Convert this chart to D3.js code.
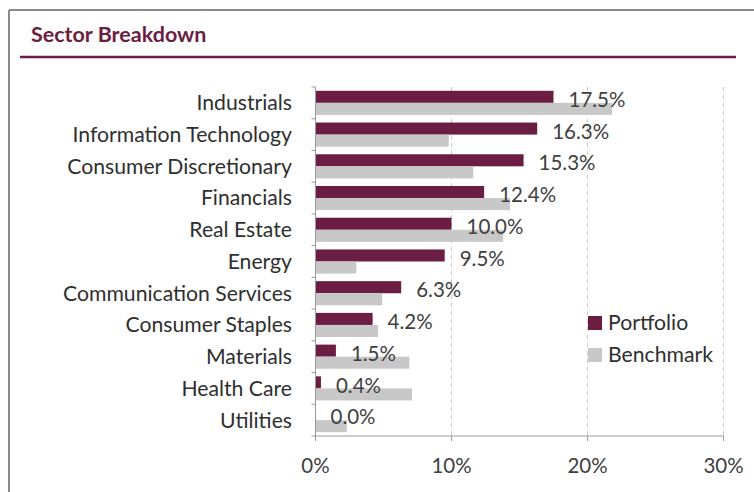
<!DOCTYPE html>
<meta charset="utf-8">
<style>
    body { margin: 0; background: #fff; }
    text { font-family: Lato, "Open Sans", sans-serif; }
    .cat { font-size: 21.2px; fill: #2f2f2f; }
    .val { font-size: 20.5px; fill: #404040; }
    .tick-label { font-size: 20.5px; fill: #404040; }
    .grid line { stroke: #c8c8c8; stroke-dasharray: 4, 4; }
</style>
<body>
<svg width="754" height="492"></svg>
</body>
<script src="https://d3js.org/d3.v7.min.js"></script>
<script>
    // data
    var sectors = ["Industrials", "Information Technology", "Consumer Discretionary", "Financials",
        "Real Estate", "Energy", "Communication Services", "Consumer Staples", "Materials",
        "Health Care", "Utilities"];
    var portfolio = [17.5, 16.3, 15.3, 12.4, 10.0, 9.5, 6.3, 4.2, 1.5, 0.4, 0.0];
    var benchmark = [21.8, 9.8, 11.6, 14.3, 13.8, 3.0, 4.9, 4.6, 6.9, 7.1, 2.3];
    var xTicks = [0, 10, 20, 30];

    var maroon = "#6b1d42", grey = "#c8c8c8";

    var svg = d3.select("svg");

    // frame
    svg.append("line").attr("x1", 9).attr("x2", 754).attr("y1", 10).attr("y2", 10)
        .attr("stroke", "#8a8a8a").attr("stroke-width", 2);
    svg.append("line").attr("x1", 9).attr("x2", 9).attr("y1", 10).attr("y2", 492)
        .attr("stroke", "#8a8a8a").attr("stroke-width", 2);

    // title
    svg.append("text").attr("x", 31).attr("y", 42)
        .style("font-size", "21.5px").style("font-weight", "bold").style("fill", maroon)
        .text("Sector Breakdown");
    svg.append("line").attr("x1", 20).attr("x2", 736).attr("y1", 57).attr("y2", 57)
        .attr("stroke", maroon).attr("stroke-width", 2.5);

    var x = d3.scaleLinear().domain([0, 30]).range([315.5, 723.5]);
    var y = d3.scaleBand().domain(sectors).range([87, 436]).paddingInner(0.24).paddingOuter(0.12);
    var yBand = d3.scaleBand().domain(sectors).range([87, 436]);

    // gridlines
    svg.append("g").attr("class", "grid")
        .selectAll("line").data(xTicks.slice(1)).enter().append("line")
        .attr("x1", function (d) { return x(d); }).attr("x2", function (d) { return x(d); })
        .attr("y1", 87).attr("y2", 436);

    var rows = svg.selectAll(".row").data(sectors).enter().append("g")
        .attr("class", "row");

    var bh = y.bandwidth() / 2;
    rows.append("rect")
        .attr("x", x(0)).attr("y", function (d) { return y(d); })
        .attr("width", function (d, i) { return x(portfolio[i]) - x(0); })
        .attr("height", bh).attr("fill", maroon);
    rows.append("rect")
        .attr("x", x(0)).attr("y", function (d) { return y(d) + bh; })
        .attr("width", function (d, i) { return x(benchmark[i]) - x(0); })
        .attr("height", bh).attr("fill", grey);

    rows.append("text").attr("class", "val")
        .attr("x", function (d, i) { return x(portfolio[i]) + 15; })
        .attr("y", function (d) { return y(d) + bh - 3; })
        .attr("dy", "0.35em")
        .text(function (d, i) { return portfolio[i].toFixed(1) + "%"; });

    rows.append("text").attr("class", "cat")
        .attr("x", 292).attr("y", function (d) { return yBand(d) + yBand.bandwidth() / 2; })
        .attr("dy", "0.35em").attr("text-anchor", "end")
        .text(function (d) { return d; });

    // axes
    var yAxis = svg.append("g").attr("transform", "translate(" + x(0) + ",0)");
    yAxis.append("line").attr("y1", 87).attr("y2", 436).attr("stroke", "#999");
    yAxis.selectAll(".yt").data(sectors.concat(["end"])).enter().append("line")
        .attr("x1", -4).attr("x2", 0)
        .attr("y1", function (d, i) { return 87 + i * yBand.step(); })
        .attr("y2", function (d, i) { return 87 + i * yBand.step(); })
        .attr("stroke", "#999");

    var xAxis = svg.append("g").attr("transform", "translate(0,436)");
    xAxis.append("line").attr("x1", x(0)).attr("x2", x(30)).attr("stroke", "#999");
    xAxis.selectAll(".xt").data(xTicks).enter().append("line")
        .attr("x1", function (d) { return x(d); }).attr("x2", function (d) { return x(d); })
        .attr("y1", 0).attr("y2", 5).attr("stroke", "#999");
    xAxis.selectAll(".tick-label").data(xTicks).enter().append("text")
        .attr("class", "tick-label")
        .attr("x", function (d) { return x(d); }).attr("y", 30)
        .attr("dy", "0.35em").attr("text-anchor", "middle")
        .text(function (d) { return d + "%"; });

    // legend
    var legend = svg.selectAll(".legend").data([["Portfolio", maroon], ["Benchmark", grey]])
        .enter().append("g")
        .attr("transform", function (d, i) { return "translate(588," + (316 + i * 32) + ")"; });
    legend.append("rect").attr("width", 14).attr("height", 14).attr("fill", function (d) { return d[1]; });
    legend.append("text").attr("class", "cat").attr("x", 20).attr("y", 7).attr("dy", "0.35em")
        .text(function (d) { return d[0]; });
</script>
